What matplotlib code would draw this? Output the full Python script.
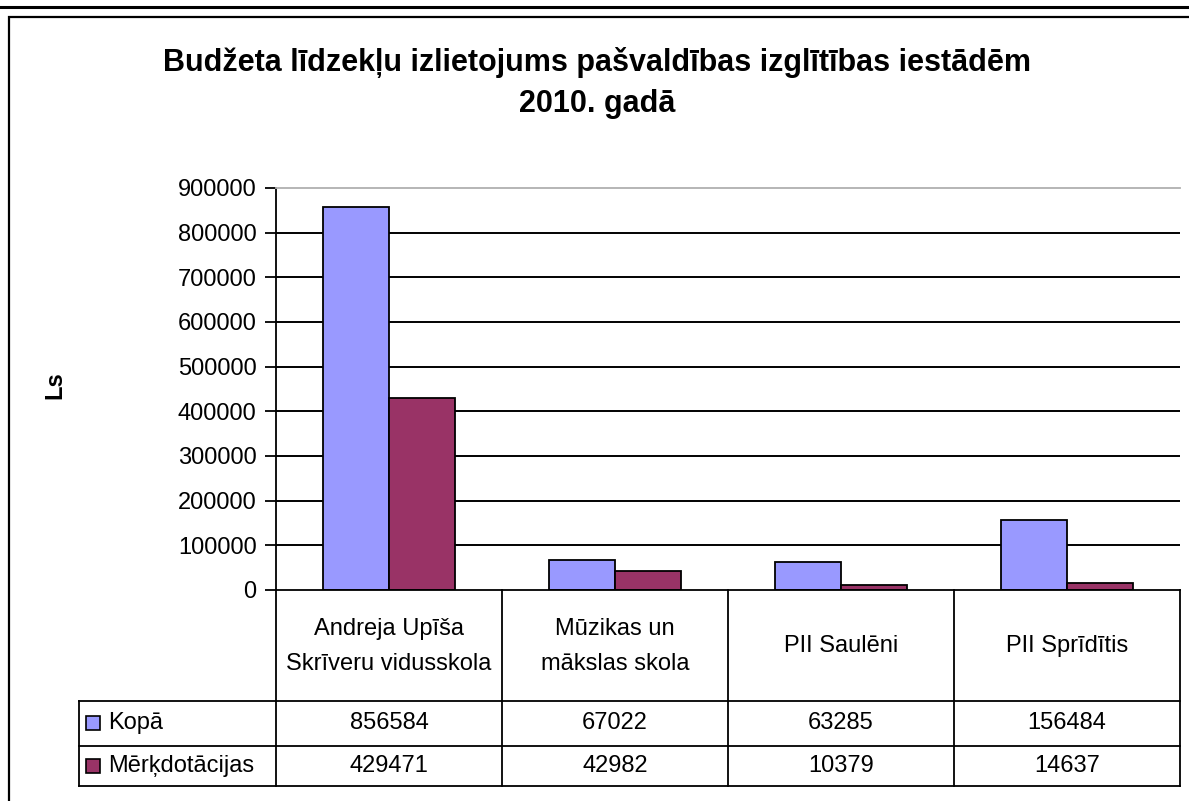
import matplotlib
matplotlib.use("Agg")
import matplotlib.pyplot as plt
from matplotlib.patches import Rectangle
from matplotlib.lines import Line2D

plt.rcParams["font.family"] = ["Liberation Sans", "DejaVu Sans"]

TITLE = "Budžeta līdzekļu izlietojums pašvaldības izglītības iestādēm\n2010. gadā"
Y_LABEL = "Ls"
CATEGORIES = ["Andreja Upīša\nSkrīveru vidusskola", "Mūzikas un\nmākslas skola", "PII Saulēni", "PII Sprīdītis"]
SERIES_NAMES = ["Kopā", "Mērķdotācijas"]
KOPA = [856584, 67022, 63285, 156484]
MERKDOTACIJAS = [429471, 42982, 10379, 14637]
Y_TICKS = [0, 100000, 200000, 300000, 400000, 500000, 600000, 700000, 800000, 900000]
COLORS = ["#9999FF", "#993366"]

W, H = 1189, 801
FS = 17
fig = plt.figure(figsize=(W / 100, H / 100), dpi=100)


def px_rect(left, top, right, bottom):
    return [left / W, 1 - bottom / H, (right - left) / W, (bottom - top) / H]


# outer page line and chart frame
fig.add_artist(Line2D([0, 1], [1 - 6.5 / H] * 2, color="black", lw=2.2, transform=fig.transFigure))
fig.add_artist(Rectangle((9 / W, -0.1), 1.2, 1 - 17 / H + 0.1, fill=False, ec="black", lw=1.6,
                         transform=fig.transFigure))

PL, PR, PT, PB = 276, 1180, 188, 590
ax = fig.add_axes(px_rect(PL, PT, PR, PB))
series = [KOPA, MERKDOTACIJAS]
bw = 0.29
for i, (vals, col) in enumerate(zip(series, COLORS)):
    xs = [k + (i - 0.5) * bw for k in range(len(CATEGORIES))]
    ax.bar(xs, vals, width=bw, color=col, edgecolor="black", linewidth=1.3, zorder=3)

ax.set_xlim(-0.5, len(CATEGORIES) - 0.5)
ax.set_ylim(0, 900000)
ax.set_yticks(Y_TICKS)
ax.set_yticklabels([str(v) for v in Y_TICKS], fontsize=FS)
ax.tick_params(axis="y", length=8, width=1.3, pad=6)
ax.set_xticks([])
for v in Y_TICKS[1:-1]:
    ax.axhline(v, color="black", lw=1.4, zorder=1)
for s in ["right", "bottom"]:
    ax.spines[s].set_visible(False)
ax.spines["top"].set_color("#b0b0b0")
ax.spines["top"].set_linewidth(1.3)
ax.spines["left"].set_linewidth(1.3)
ax.patch.set_alpha(0)

# data table below the plot
TL, TB = 79, 786
cat_px = (PR - PL) / len(CATEGORIES)
tax = fig.add_axes(px_rect(TL, PB, PR, TB))
tax.set_xlim(-0.5 - (PL - TL) / cat_px, len(CATEGORIES) - 0.5)
tax.set_ylim(TB - PB, 0)
tax.axis("off")
x0 = -0.5 - (PL - TL) / cat_px
r1, r2, r3 = 700.5 - PB, 745.5 - PB, TB - PB
lk = dict(color="black", lw=1.3, clip_on=False)
tax.plot([-0.5, len(CATEGORIES) - 0.5], [0, 0], **lk)
for yy in (r1, r2, r3):
    tax.plot([x0, len(CATEGORIES) - 0.5], [yy, yy], **lk)
tax.plot([x0, x0], [r1, r3], **lk)
for k in range(len(CATEGORIES) + 1):
    tax.plot([k - 0.5, k - 0.5], [0, r3], **lk)

for k, name in enumerate(CATEGORIES):
    tax.text(k, r1 / 2 + 1, name, ha="center", va="center", fontsize=FS, linespacing=1.75)
for row, (name, vals, col) in enumerate(zip(SERIES_NAMES, series, COLORS)):
    top = r1 if row == 0 else r2
    bot = r2 if row == 0 else r3
    yc = (top + bot) / 2
    sq = 14 / cat_px
    tax.add_patch(Rectangle((x0 + 7 / cat_px, yc - 7), sq, 14, fc=col, ec="black", lw=1.2, clip_on=False))
    tax.text(x0 + 29 / cat_px, yc, name, ha="left", va="center", fontsize=FS)
    for k, v in enumerate(vals):
        tax.text(k, yc, str(v), ha="center", va="center", fontsize=FS)

fig.text(597 / W, 1 - 83 / H, TITLE, ha="center", va="center", fontsize=22, fontweight="bold",
         linespacing=1.5)
fig.text(55 / W, 1 - 385 / H, Y_LABEL, ha="center", va="center", rotation=90, fontsize=FS,
         fontweight="bold")

fig.savefig("out.png", dpi=100)
